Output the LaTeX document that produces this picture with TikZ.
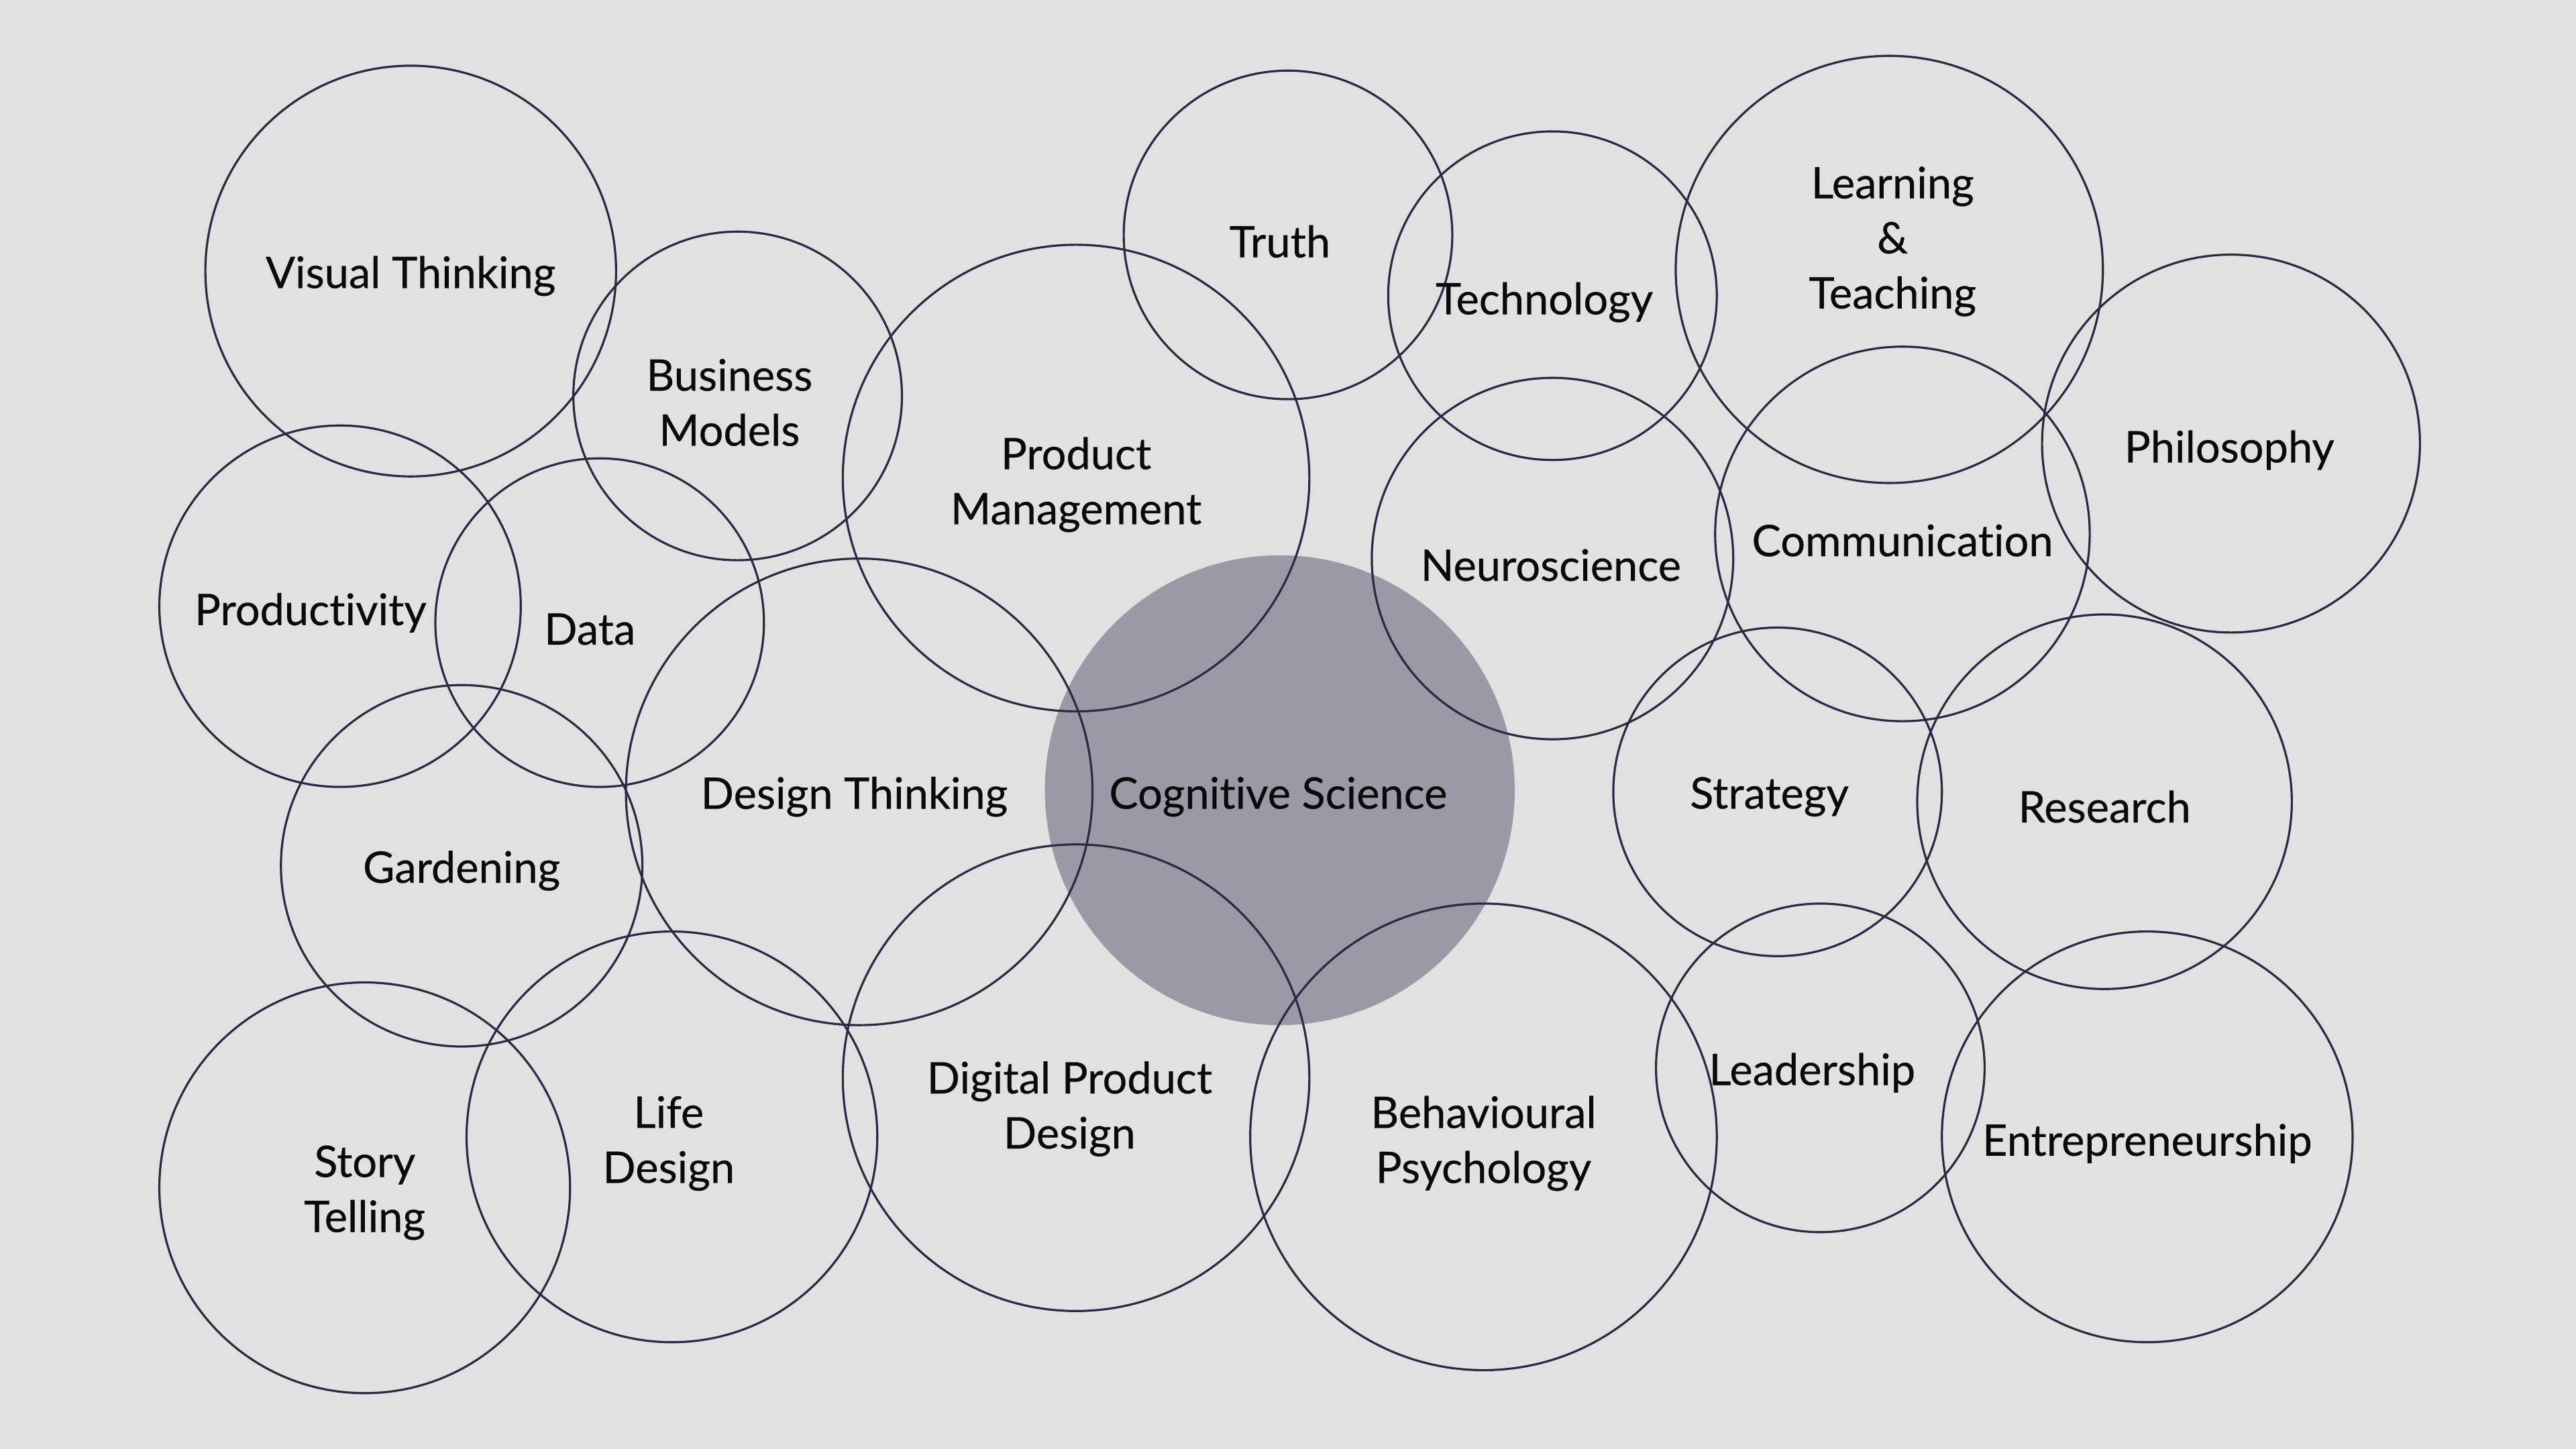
\documentclass[tikz,border=0pt]{standalone}
\usepackage{fontspec}
\setmainfont{Lato}[FakeBold=0.35,Ligatures={NoCommon}]
\usepackage{tikz}
\usetikzlibrary{positioning}
\definecolor{BubbleBg}{HTML}{E1E1E1}
\definecolor{BubbleLine}{HTML}{2A2A45}
\definecolor{BubbleCore}{HTML}{9A99A6}
\definecolor{BubbleText}{HTML}{0A0A0A}

\begin{document}
\begin{tikzpicture}[x=1pt,y=-1pt,font=\fontsize{26.5pt}{33.5pt}\selectfont,
      bubble/.style={circle,draw=BubbleLine,line width=1.3pt,inner sep=0pt,outer sep=0pt},
      core/.style={circle,fill=BubbleCore,inner sep=0pt,outer sep=0pt},
      lbl/.style={text=BubbleText,align=center,inner sep=0pt}]
      \fill[BubbleBg] (0,0) rectangle (1568,882);
      \useasboundingbox (0,0) rectangle (1568,882);
      % filled centre first, the outlines go over it
      \node[core,minimum size=286pt] (cogsci) at (779,481) {};
      % top row
      \node[bubble,minimum size=250pt] (vis) at (250,165) {};
      \node[bubble,minimum size=200pt] (biz) at (449,241) {};
      \node[bubble,minimum size=284pt] (prodm) at (655,291) {};
      \node[bubble,minimum size=200pt] (truth) at (784,143) {};
      \node[bubble,minimum size=200pt] (tech) at (945,180) {};
      \node[bubble,minimum size=260pt] (learn) at (1150,164) {};
      \node[bubble,minimum size=230pt] (phil) at (1358,270) {};
      % middle
      \node[bubble,minimum size=220pt] (prodv) at (207,369) {};
      \node[bubble,minimum size=200pt] (data) at (365,379) {};
      \node[bubble,minimum size=220pt] (neuro) at (945,340) {};
      \node[bubble,minimum size=228pt] (comm) at (1158,325) {};
      \node[bubble,minimum size=284pt] (dthink) at (523,482) {};
      \node[bubble,minimum size=200pt] (strat) at (1082,482) {};
      \node[bubble,minimum size=228pt] (research) at (1281,488) {};
      \node[bubble,minimum size=220pt] (garden) at (281,527) {};
      % bottom row
      \node[bubble,minimum size=250pt] (story) at (222,723) {};
      \node[bubble,minimum size=250pt] (life) at (409,692) {};
      \node[bubble,minimum size=284pt] (dpd) at (655,656) {};
      \node[bubble,minimum size=284pt] (behav) at (903,692) {};
      \node[bubble,minimum size=200pt] (lead) at (1108,650) {};
      \node[bubble,minimum size=250pt] (entre) at (1307,692) {};
      % labels
      \node[lbl] (visT) at (250,168) {Visual Thinking};
      \node[lbl] (bizT) at (444,245) {Business\\Models};
      \node[lbl] (prodmT) at (655,295) {Product\\Management};
      \node[lbl] (truthT) at (779,147) {Truth};
      \node[lbl] (techT) at (940,184) {Technology};
      \node[lbl] (learnT) at (1152,147) {Learning\\\&\\Teaching};
      \node[lbl] (philT) at (1357,274) {Philosophy};
      \node[lbl] (prodvT) at (189,373) {Productivity};
      \node[lbl] (dataT) at (359,383) {Data};
      \node[lbl] (neuroT) at (944,344) {Neuroscience};
      \node[lbl] (commT) at (1158,329) {Communication};
      \node[lbl] (dthinkT) at (520,485) {Design Thinking};
      \node[lbl] (cogsciT) at (778,485) {Cognitive Science};
      \node[lbl] (stratT) at (1077,485) {Strategy};
      \node[lbl] (researchT) at (1281,491) {Research};
      \node[lbl] (gardenT) at (281,530) {Gardening};
      \node[lbl] (storyT) at (222,726) {Story\\Telling};
      \node[lbl] (lifeT) at (407,696) {Life\\Design};
      \node[lbl] (dpdT) at (651,675) {Digital Product\\Design};
      \node[lbl] (behavT) at (903,696) {Behavioural\\Psychology};
      \node[lbl] (leadT) at (1103,653) {Leadership};
      \node[lbl] (entreT) at (1307,696) {Entrepreneurship};
    \end{tikzpicture}
\end{document}
